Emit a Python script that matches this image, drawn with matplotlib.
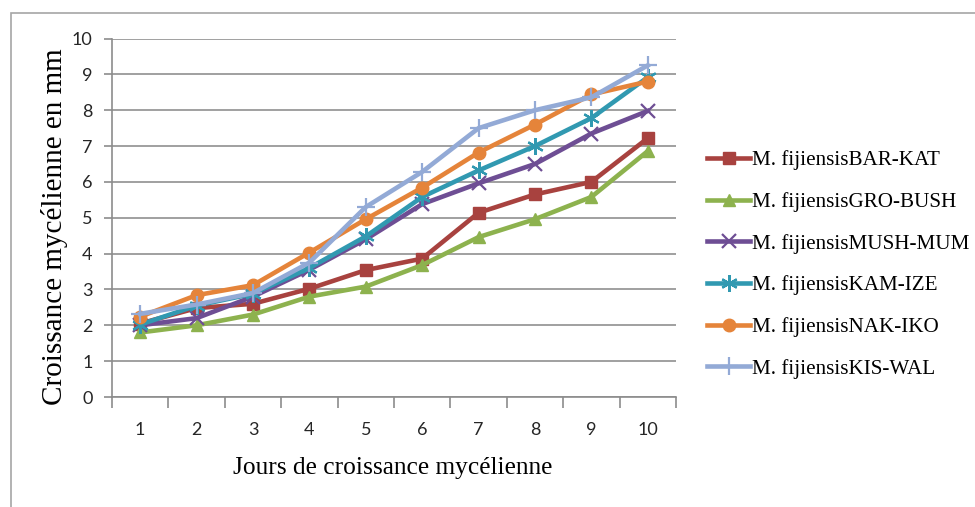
import numpy as np
import matplotlib
matplotlib.use('Agg')
import matplotlib.pyplot as plt
import matplotlib.patches as patches

days = [1, 2, 3, 4, 5, 6, 7, 8, 9, 10]
bar_kat = [2.05, 2.48, 2.6, 3.02, 3.54, 3.86, 5.14, 5.65, 6.0, 7.22]
gro_bush = [1.8, 2.0, 2.3, 2.8, 3.08, 3.68, 4.46, 4.96, 5.58, 6.86]
mush_mum = [2.0, 2.2, 2.8, 3.55, 4.4, 5.38, 5.96, 6.5, 7.35, 7.98]
kam_ize = [2.02, 2.55, 2.88, 3.6, 4.48, 5.58, 6.32, 7.0, 7.78, 8.92]
nak_iko = [2.24, 2.84, 3.12, 4.03, 4.96, 5.84, 6.82, 7.6, 8.44, 8.8]
kis_wal = [2.32, 2.58, 2.9, 3.75, 5.3, 6.28, 7.5, 8.0, 8.36, 9.25]

labels = ['M. fijiensisBAR-KAT', 'M. fijiensisGRO-BUSH', 'M. fijiensisMUSH-MUM',
          'M. fijiensisKAM-IZE', 'M. fijiensisNAK-IKO', 'M. fijiensisKIS-WAL']
series = [bar_kat, gro_bush, mush_mum, kam_ize, nak_iko, kis_wal]
colours = ['#A8423F', '#8DB24E', '#6E4E94', '#3199B1', '#E5843A', '#93AAD6']
markers = ['s', '^', 'x', (6, 2, 0), 'o', '+']
msizes = [9, 9, 10, 12, 9, 13]

fig = plt.figure(figsize=(9.75, 5.07), dpi=100)
ax = fig.add_axes([112 / 975, 1 - 397 / 507, (676 - 112) / 975, (397 - 38.5) / 507])

# outer chart frame (runs off the right/bottom edge like the source)
fig.patches.append(patches.Rectangle((11 / 975, -0.05), 1.2, 1 - 12.5 / 507 + 0.05,
                                     transform=fig.transFigure, fill=False,
                                     edgecolor='#A6A6A6', linewidth=1.2))

for vals, lab, col, mk, ms in zip(series, labels, colours, markers, msizes):
    ax.plot(days, vals, color=col, linewidth=3.3, marker=mk, markersize=ms,
            markeredgewidth=1.6 if mk in ('x', '+') or isinstance(mk, tuple) else 1,
            markeredgecolor=col, markerfacecolor=col, label=lab, zorder=3)

ax.set_xlim(0.5, 10.5)
ax.set_ylim(0, 10)
ax.set_yticks(range(0, 11))
ax.set_xticks(days)
ax.set_xticks(np.arange(0.5, 11, 1), minor=True)
ax.grid(axis='y', color='#A0A0A0', linewidth=1.4, zorder=0)
for s in ['top', 'right']:
    ax.spines[s].set_visible(False)
for s in ['left', 'bottom']:
    ax.spines[s].set_color('#8C8C8C')
    ax.spines[s].set_linewidth(1.2)

ax.tick_params(axis='x', which='major', length=0, pad=18)
ax.tick_params(axis='x', which='minor', length=8, color='#8C8C8C', width=1.2)
ax.tick_params(axis='y', length=6, color='#8C8C8C', width=1.2, pad=8)
for t in ax.get_xticklabels() + ax.get_yticklabels():
    t.set_fontfamily('Lato')
    t.set_fontsize(13)
    t.set_color('#262626')

ax.set_xlabel('Jours de croissance mycélienne', fontfamily='Liberation Serif',
              fontsize=18.3)
ax.xaxis.set_label_coords(0.498, -0.166)
ax.set_ylabel('Croissance mycélienne en mm', fontfamily='Liberation Serif',
              fontsize=21)
ax.yaxis.set_label_coords(-0.078, 0.474)

leg = fig.legend(loc='upper left', bbox_to_anchor=(699 / 975, 1 - 142 / 507),
                 frameon=False, prop={'family': 'Liberation Serif', 'size': 15.2},
                 labelspacing=1.03, handlelength=2.0, handletextpad=0.1,
                 borderaxespad=0)

plt.savefig('out.png', dpi=100)
